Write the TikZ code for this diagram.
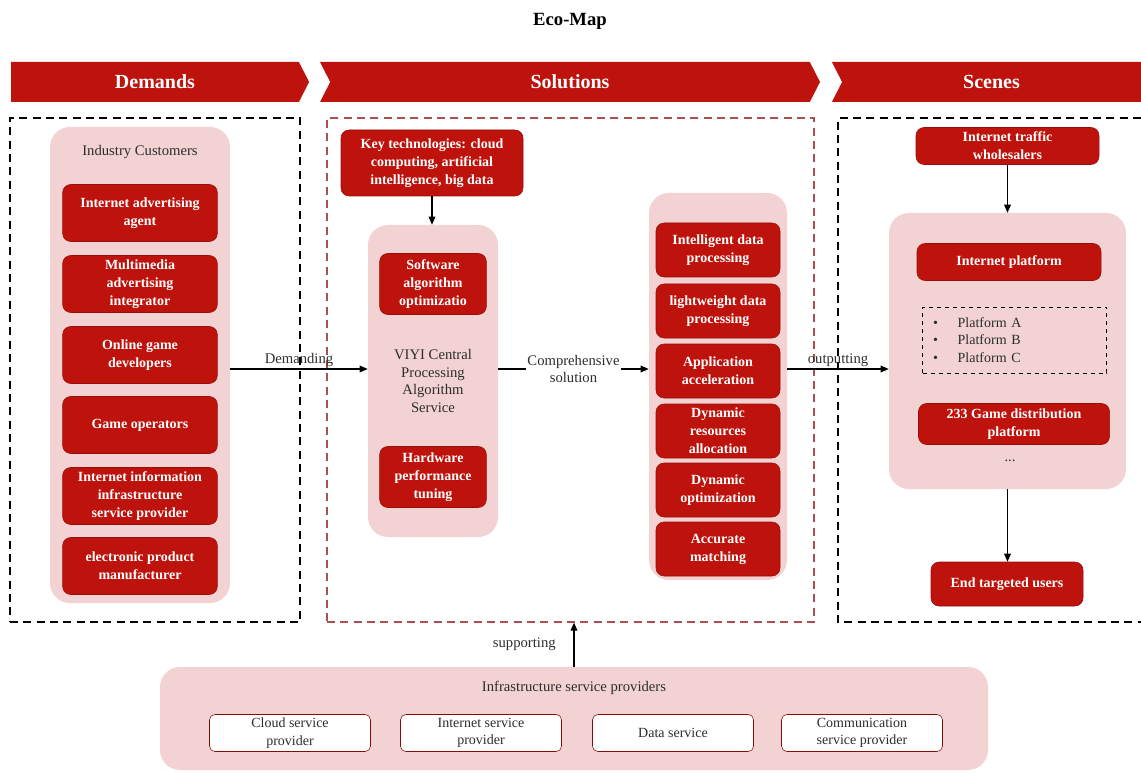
\documentclass[tikz,border=0pt]{standalone}
\usepackage{fontspec}
\setmainfont{Liberation Serif}
\usepackage{xcolor}
\usepackage{tikz}
\usetikzlibrary{positioning, calc, shapes.symbols, arrows.meta}

\definecolor{ecored}{RGB}{190,18,12}
\definecolor{ecopink}{RGB}{242,210,210}
\definecolor{framered}{RGB}{170,80,80}
\definecolor{inktext}{RGB}{45,45,45}

\begin{document}
\begin{tikzpicture}[
    x=0.75pt, y=-0.75pt,
    banner/.style={
        signal, signal pointer angle=126, fill=ecored, draw=none,
        minimum height=30pt, inner sep=0pt, outer sep=0pt,
        text=white, font=\bfseries\fontsize{15}{18}\selectfont
    },
    frame/.style={draw=black, line width=0.9pt, dash pattern=on 6pt off 4pt},
    panel/.style={
        rectangle, rounded corners=15pt, fill=ecopink, draw=none,
        align=center, text=inktext, font=\fontsize{11}{13.2}\selectfont
    },
    redbox/.style={
        rectangle, rounded corners=6pt, draw=ecored!80!black, fill=ecored,
        text=white, align=center, inner xsep=2pt, inner ysep=1pt,
        font=\bfseries\fontsize{10.5}{13.5}\selectfont
    },
    custbox/.style={redbox, minimum width=116pt, minimum height=42.75pt},
    techbox/.style={redbox, minimum width=80pt, minimum height=45.75pt},
    resbox/.style={redbox, minimum width=93pt, minimum height=40.5pt},
    whitebox/.style={
        rectangle, rounded corners=4pt, draw=ecored!70!black, fill=white,
        minimum width=120.75pt, minimum height=27.75pt, inner sep=1pt,
        align=center, text=inktext, font=\fontsize{10.5}{13}\selectfont
    },
    listbox/.style={
        rectangle, draw=black, thin, dashed, text width=122pt,
        minimum height=49.5pt, inner xsep=8pt, align=left,
        text=inktext, font=\fontsize{10.5}{13}\selectfont
    },
    plain/.style={text=inktext, font=\fontsize{11}{13.2}\selectfont, align=center},
    flow/.style={-{Triangle[length=6pt,width=5pt]}, line width=0.8pt, black}
]
\useasboundingbox (0,0) rectangle (1141,773);

% 1. Title and the three banners
\node[font=\bfseries\fontsize{14}{16}\selectfont] (title) at (570,21) {Eco-Map};
\node[banner, signal to=east, minimum width=223.5pt] (demands) at (155,82) {Demands};
\node[banner, signal from=west, signal to=east, minimum width=375pt] (solutions) at (570,82) {Solutions};
\node[banner, signal from=west, signal to=nowhere, minimum width=231.75pt] (scenes) at (991.5,82) {Scenes};

% 2. Dashed frames
\node[frame, minimum width=217.5pt, minimum height=378pt] (demframe) at (155,370) {};
\node[frame, draw=framered, minimum width=365.25pt, minimum height=378pt] (solframe) at (570.5,370) {};
\draw[frame] (1141,118) -| (838,622) -- (1141,622);

% 3. Demands: industry customers
\node[panel, minimum width=135pt, minimum height=357pt] (customers) at (140,365) {};
\node[plain] (custtitle) at (140,152) {Industry Customers};
\node[custbox] (adagent) at (140,213) {Internet advertising\\agent};
\node[custbox] (multimedia) at (140,284) {Multimedia\\advertising\\integrator};
\node[custbox] (gamedev) at (140,355) {Online game\\developers};
\node[custbox] (gameop) at (140,425) {Game operators};
\node[custbox] (infoprov) at (140,496) {Internet information\\infrastructure\\service provider};
\node[custbox] (electronic) at (140,566) {electronic product\\manufacturer};

% 4. Solutions: central service and results
\node[redbox, minimum width=136.5pt, minimum height=49.5pt] (keytech) at (432,163)
    {Key technologies: cloud\\computing, artificial\\intelligence, big data};
\node[panel, minimum width=97.5pt, minimum height=234pt] (viyi) at (433,381)
    {VIYI Central\\Processing\\Algorithm\\Service};
\node[techbox] (software) at (433,284) {Software\\algorithm\\optimizatio};
\node[techbox] (hardware) at (433,477) {Hardware\\performance\\tuning};

\node[panel, minimum width=103.5pt, minimum height=290.25pt] (results) at (718,386.5) {};
\node[resbox] (intelligent) at (718,250) {Intelligent data\\processing};
\node[resbox] (lightweight) at (718,311) {lightweight data\\processing};
\node[resbox] (acceleration) at (718,371) {Application\\acceleration};
\node[resbox, inner ysep=0pt] (allocation) at (718,431) {Dynamic\\resources\\allocation};
\node[resbox] (optimization) at (718,490) {Dynamic\\optimization};
\node[resbox] (matching) at (718,549) {Accurate\\matching};

% 5. Scenes
\node[redbox, minimum width=137.25pt, minimum height=27.75pt] (traffic) at (1007.5,146)
    {Internet traffic\\wholesalers};
\node[panel, minimum width=177.75pt, minimum height=207pt] (platforms) at (1007.5,351) {};
\node[redbox, minimum width=138pt, minimum height=27.75pt] (netplatform) at (1009,262) {Internet platform};
\node[listbox] (platlist) at (1014.5,340)
    {\textbullet\hspace{1.4em}Platform A\\ \textbullet\hspace{1.4em}Platform B\\ \textbullet\hspace{1.4em}Platform C};
\node[redbox, minimum width=143.25pt, minimum height=30.75pt] (gamedist) at (1014,424)
    {233 Game distribution\\platform};
\node[plain] (moreplat) at (1010,461) {...};
\node[redbox, minimum width=114pt, minimum height=33pt] (endusers) at (1007,584) {End targeted users};

% 6. Infrastructure
\node[panel, minimum width=621pt, minimum height=77.25pt] (infra) at (574,718.5) {};
\node[plain] (infratitle) at (574,688) {Infrastructure service providers};
\node[whitebox] (cloud) at (290,733) {Cloud service\\provider};
\node[whitebox] (netservice) at (481,733) {Internet service\\provider};
\node[whitebox] (dataservice) at (673,733) {Data service};
\node[whitebox] (commservice) at (862,733) {Communication\\service provider};

% 7. Relationships
\coordinate (flowline) at (0,369);
\draw[flow] (flowline -| customers.east) -- node[plain, above, inner sep=1pt] {Demanding} (flowline -| viyi.west);
\draw[flow] (flowline -| viyi.east) -- node[plain, fill=white, inner sep=1pt] {Comprehensive\\solution} (flowline -| results.west);
\draw[flow] (flowline -| results.east) -- node[plain, above, inner sep=1pt] {outputting} (flowline -| platforms.west);
\draw[flow] (keytech.south) -- (keytech.south |- viyi.north);
\draw[flow] (traffic.south) -- (traffic.south |- platforms.north);
\draw[flow] (platforms.south) -- (platforms.south |- endusers.north);
\draw[flow] (infra.north) -- node[plain, left=10pt] {supporting} (infra.north |- solframe.south);

\end{tikzpicture}
\end{document}
